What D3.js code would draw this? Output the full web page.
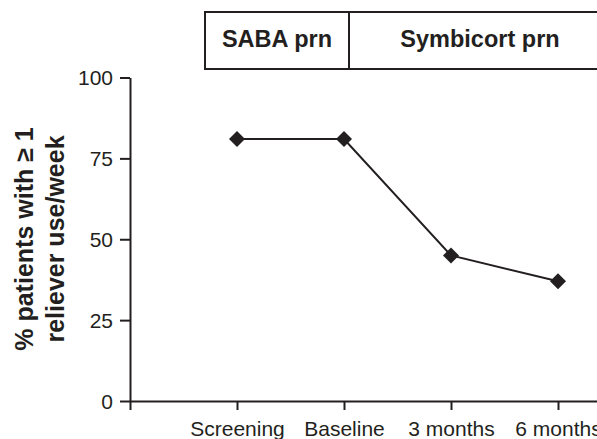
<!DOCTYPE html>
<html>
<head>
<meta charset="utf-8">
<script src="https://cdn.jsdelivr.net/npm/d3@7"></script>
<style>
  body { margin: 0; background: #fff; }
  svg { display: block; font-family: "Liberation Sans", Arial, sans-serif; }
  .axis path, .axis line { stroke: #231f20; stroke-width: 2px; }
  .axis text { fill: #231f20; font-size: 21px; }
</style>
</head>
<body>
<div id="chart"></div>
<script>
var categories = ["Screening", "Baseline", "3 months", "6 months"];
var values = [81, 81, 45, 37];
var yTicks = [0, 25, 50, 75, 100];
var phases = ["SABA prn", "Symbicort prn"];
var yLabel = ["% patients with \u2265 1", "reliever use/week"];

var W = 597, H = 439;
var INK = "#231f20";

var svg = d3.select("#chart").append("svg")
    .attr("width", W)
    .attr("height", H);

// x positions by index, 0 is the origin, categories sit at 1..4
var x = d3.scaleLinear().domain([0, 5]).range([130, 665]);
var y = d3.scaleLinear().domain([0, 100]).range([401, 77.5]);

// y axis
svg.append("g")
    .attr("class", "axis")
    .attr("transform", "translate(130,0)")
    .call(d3.axisLeft(y).tickValues(yTicks).tickSize(10).tickSizeOuter(0).tickPadding(7))
    .selectAll("text").attr("dy", "0.35em");

// x axis
svg.append("g")
    .attr("class", "axis")
    .attr("transform", "translate(0," + y(0) + ")")
    .call(d3.axisBottom(x)
        .tickValues([0, 1, 2, 3, 4])
        .tickSize(9)
        .tickSizeOuter(0)
        .tickPadding(11)
        .tickFormat(function(d){ return d === 0 ? "" : categories[d - 1]; }))
    .selectAll("text").attr("dy", "0.71em");

// y axis title, two lines
var yt = svg.append("text")
    .attr("transform", "rotate(-90)")
    .attr("text-anchor", "middle")
    .style("font-weight", "bold")
    .style("font-size", "25px")
    .attr("fill", INK);
yt.selectAll("tspan").data(yLabel).enter().append("tspan")
    .attr("x", -239)
    .attr("y", function(d, i){ return 33 + i * 31; })
    .text(function(d){ return d; });

// treatment phase box
var boxTop = 12, boxBottom = 69;
var boxLeft = 205, divider = 349, boxRight = 620;
svg.append("rect")
    .attr("x", boxLeft).attr("y", boxTop)
    .attr("width", boxRight - boxLeft).attr("height", boxBottom - boxTop)
    .attr("fill", "none").attr("stroke", INK).attr("stroke-width", 2);
svg.append("line")
    .attr("x1", divider).attr("x2", divider)
    .attr("y1", boxTop).attr("y2", boxBottom)
    .attr("stroke", INK).attr("stroke-width", 2);
svg.selectAll(".phase").data(phases).enter().append("text")
    .attr("class", "phase")
    .attr("x", function(d, i){ return i === 0 ? (boxLeft + divider) / 2 : 480; })
    .attr("y", 47)
    .attr("text-anchor", "middle")
    .style("font-weight", "bold")
    .style("font-size", "23.5px")
    .attr("fill", INK)
    .text(function(d){ return d; });

// series line
var line = d3.line()
    .x(function(d, i){ return x(i + 1); })
    .y(function(d){ return y(d); });
svg.append("path")
    .datum(values)
    .attr("d", line)
    .attr("fill", "none")
    .attr("stroke", INK)
    .attr("stroke-width", 2);

// diamond markers
svg.selectAll(".pt").data(values).enter().append("path")
    .attr("class", "pt")
    .attr("d", "M0 -8 L8 0 L0 8 L-8 0 Z")
    .attr("fill", INK)
    .attr("transform", function(d, i){ return "translate(" + x(i + 1) + "," + y(d) + ")"; });
</script>
</body>
</html>
